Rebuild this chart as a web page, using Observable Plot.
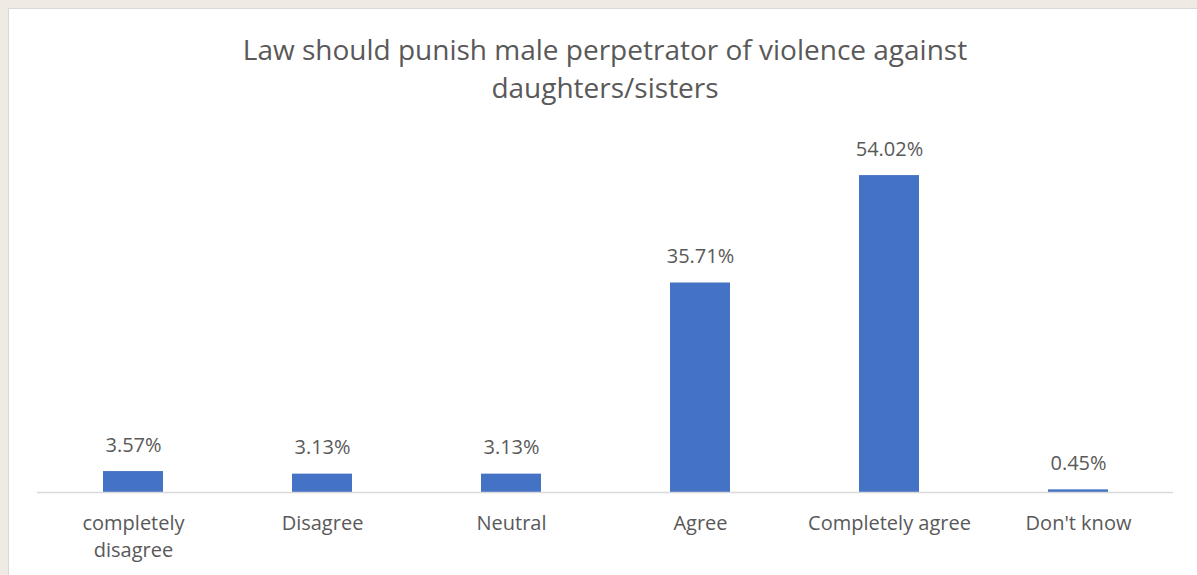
<!DOCTYPE html>
<html>
<head>
<meta charset="utf-8">
<script src="https://cdn.jsdelivr.net/npm/d3@7"></script>
<script src="https://cdn.jsdelivr.net/npm/@observablehq/plot@0.6"></script>
<style>
  html, body { margin: 0; padding: 0; background: #EFEBE4; width: 1197px; height: 575px; overflow: hidden; }
  #box { position: absolute; left: 8px; top: 8px; width: 1200px; height: 600px; background: #fff; border: 1px solid #D9D9D9; box-sizing: border-box; }
  #title { position: absolute; left: 0; top: 30px; width: 1210px; text-align: center; font-family: "Open Sans", sans-serif; font-size: 28px; line-height: 38px; color: #595959; }
  #chart { position: absolute; left: 0; top: 0; }
</style>
</head>
<body>
<div id="box"></div>
<div id="title">Law should punish male perpetrator of violence against<br>daughters/sisters</div>
<div id="chart"></div>
<script>
const categories = ["completely disagree", "Disagree", "Neutral", "Agree", "Completely agree", "Don't know"];
const tickLabels = ["completely\ndisagree", "Disagree", "Neutral", "Agree", "Completely agree", "Don't know"];
const values = [3.57, 3.13, 3.13, 35.71, 54.02, 0.45];
const valueLabels = ["3.57%", "3.13%", "3.13%", "35.71%", "54.02%", "0.45%"];

const data = categories.map((c, i) => ({cat: c, value: values[i], label: valueLabels[i]}));
const tickMap = new Map(categories.map((c, i) => [c, tickLabels[i]]));

const chart = Plot.plot({
  width: 1197,
  height: 575,
  marginLeft: 37,
  marginRight: 24,
  marginTop: 140,
  marginBottom: 83,
  style: {background: "transparent", fontFamily: "'Open Sans', sans-serif", color: "#595959"},
  x: {domain: categories, paddingInner: 0.683, paddingOuter: 0.3415, label: null, axis: null},
  y: {domain: [0, 60], axis: null},
  marks: [
    Plot.barY(data, {x: "cat", y: "value", fill: "#4472C4"}),
    Plot.ruleY([0], {stroke: "#D9D9D9", strokeWidth: 1.5}),
    Plot.text(data, {x: "cat", y: "value", text: "label", lineAnchor: "bottom", dy: -20, fontSize: 20, fill: "#595959"}),
    Plot.axisX({label: null, tickSize: 0, tickPadding: 0, tickFormat: d => tickMap.get(d), fontSize: 20, fill: "#595959", lineAnchor: "top", dy: 18, lineHeight: 1.35})
  ]
});
document.getElementById("chart").appendChild(chart);
</script>
</body>
</html>
